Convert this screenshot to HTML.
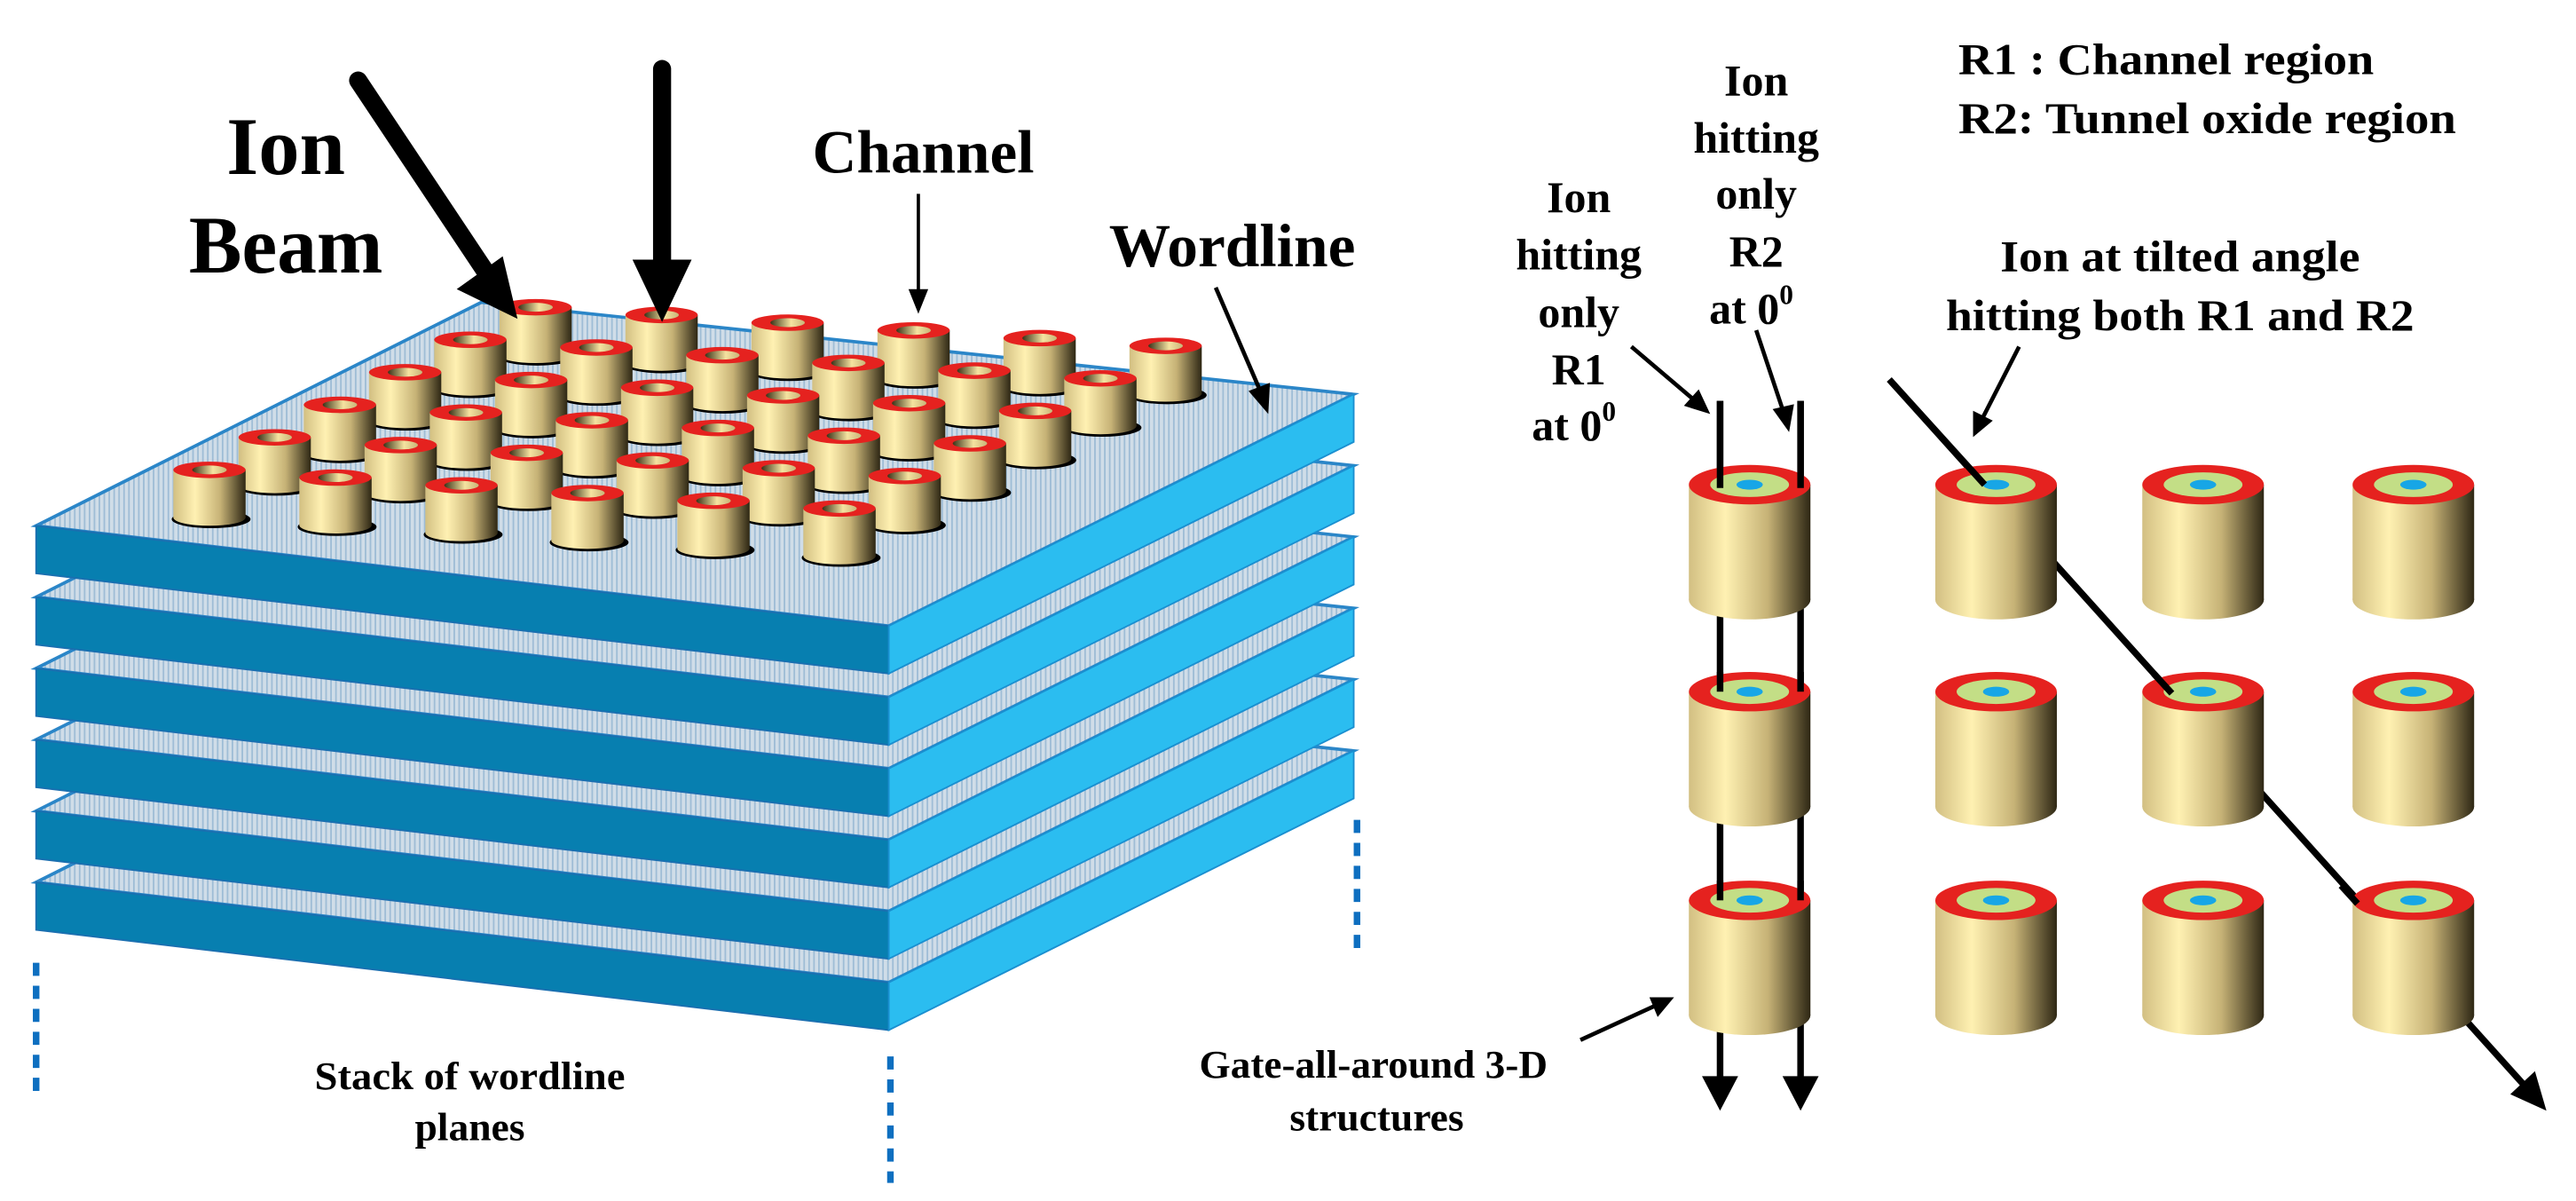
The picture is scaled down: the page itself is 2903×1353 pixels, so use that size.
<!DOCTYPE html>
<html><head><meta charset="utf-8">
<style>html,body{margin:0;padding:0;background:#fff;overflow:hidden}svg{display:block}
text{font-family:"Liberation Serif",serif;font-weight:bold;fill:#000}</style></head>
<body>
<svg id="s" width="2903" height="1353" viewBox="0 0 1568 731" preserveAspectRatio="none" xmlns="http://www.w3.org/2000/svg">
<defs>
<linearGradient id="cyl" x1="0" x2="1" y1="0" y2="0">
<stop offset="0" stop-color="#d2bf82"/><stop offset="0.3" stop-color="#fff1b2"/><stop offset="0.65" stop-color="#c6b276"/><stop offset="1" stop-color="#2e2714"/></linearGradient>
<linearGradient id="hole" x1="0" x2="1"><stop offset="0" stop-color="#3a3218"/><stop offset="0.6" stop-color="#f5e3a0"/><stop offset="1" stop-color="#c8b478"/></linearGradient>
<pattern id="tex" width="3" height="3" patternUnits="userSpaceOnUse"><rect width="3" height="3" fill="#d0dde8"/><rect width="1" height="3" fill="#9fbdd6"/></pattern>
</defs>
<g id="plates"></g>
<g id="pillars"></g>
<g id="right"></g>
<!-- left arrows -->
<line x1="218" y1="49" x2="296" y2="166" stroke="#000" stroke-width="11" stroke-linecap="round"/>
<polygon points="315,194 278,176 306,156" fill="#000"/>
<line x1="403" y1="42" x2="403" y2="165" stroke="#000" stroke-width="11" stroke-linecap="round"/>
<polygon points="403,196 385,158 421,158" fill="#000"/>
<line x1="559" y1="118" x2="559" y2="180" stroke="#000" stroke-width="2"/>
<polygon points="559,191 553,176 565,176" fill="#000"/>
<line x1="740" y1="175" x2="768" y2="240" stroke="#000" stroke-width="2.5"/>
<polygon points="772,252 760,238 773,233" fill="#000"/>
<text x="174" y="106" font-size="50" text-anchor="middle">Ion</text>
<text x="174" y="166" font-size="50" text-anchor="middle" textLength="118" lengthAdjust="spacingAndGlyphs">Beam</text>
<text x="562" y="105" font-size="37" text-anchor="middle" textLength="135" lengthAdjust="spacingAndGlyphs">Channel</text>
<text x="750" y="162" font-size="37" text-anchor="middle" textLength="150" lengthAdjust="spacingAndGlyphs">Wordline</text>
<text x="286" y="663" font-size="24" text-anchor="middle" textLength="189" lengthAdjust="spacingAndGlyphs">Stack of wordline</text>
<text x="286" y="694" font-size="24" text-anchor="middle" textLength="67" lengthAdjust="spacingAndGlyphs">planes</text>
<text x="836" y="656" font-size="24" text-anchor="middle" textLength="212" lengthAdjust="spacingAndGlyphs">Gate-all-around 3-D</text>
<text x="838" y="688" font-size="24" text-anchor="middle" textLength="106" lengthAdjust="spacingAndGlyphs">structures</text>
<g stroke="#0e6fc0" stroke-width="4" stroke-dasharray="8,6">
<line x1="22" y1="586" x2="22" y2="664"/><line x1="542" y1="643" x2="542" y2="720"/><line x1="826" y1="499" x2="826" y2="579"/>
</g>
<!-- right texts -->
<g font-size="27">
<text x="961" y="129" text-anchor="middle">Ion</text>
<text x="961" y="164" text-anchor="middle">hitting</text>
<text x="961" y="199" text-anchor="middle">only</text>
<text x="961" y="234" text-anchor="middle">R1</text>
<text x="958" y="268" text-anchor="middle">at 0<tspan font-size="17" dy="-12">0</tspan></text>
<text x="1069" y="58" text-anchor="middle">Ion</text>
<text x="1069" y="93" text-anchor="middle">hitting</text>
<text x="1069" y="127" text-anchor="middle">only</text>
<text x="1069" y="162" text-anchor="middle">R2</text>
<text x="1066" y="197" text-anchor="middle">at 0<tspan font-size="17" dy="-12">0</tspan></text>
<text x="1192" y="45" textLength="253" lengthAdjust="spacingAndGlyphs">R1 : Channel region</text>
<text x="1192" y="81" textLength="303" lengthAdjust="spacingAndGlyphs">R2: Tunnel oxide region</text>
<text x="1327" y="165" text-anchor="middle" textLength="219" lengthAdjust="spacingAndGlyphs">Ion at tilted angle</text>
<text x="1327" y="201" text-anchor="middle" textLength="285" lengthAdjust="spacingAndGlyphs">hitting both R1 and R2</text>
</g>
<g stroke="#000" stroke-width="2.5">
<line x1="993" y1="211" x2="1033" y2="245"/><line x1="1069" y1="201" x2="1086" y2="252"/>
<line x1="1229" y1="211" x2="1206" y2="256"/><line x1="962" y1="633" x2="1010" y2="611"/>
</g>
<g fill="#000">
<polygon points="1041,252 1025,247 1034,237"/><polygon points="1089,263 1079,249 1092,246"/>
<polygon points="1201,266 1201,250 1213,256"/><polygon points="1019,607 1009,619 1004,607"/>
</g>
</svg>
<script>
var NS="http://www.w3.org/2000/svg";
function el(p,t,a){var e=document.createElementNS(NS,t);for(var k in a)e.setAttribute(k,a[k]);p.appendChild(e);return e;}
var P=document.getElementById('plates');
for(var k=5;k>=0;k--){var d=k*43.4;
 var L=[22,320+d],F=[541,381+d],R=[824,240+d],B=[293,184+d],t=29;
 function pt(a,o){return a[0]+','+(a[1]+(o||0));}
 el(P,'polygon',{points:[pt(L),pt(B),pt(R),pt(F)].join(' '),fill:'url(#tex)',stroke:'#2b86c8','stroke-width':2});
 el(P,'polygon',{points:[pt(L),pt(F),pt(F,t),pt(L,t)].join(' '),fill:'#077fb0',stroke:'#1a6fb0','stroke-width':1});
 el(P,'polygon',{points:[pt(F),pt(R),pt(R,t),pt(F,t)].join(' '),fill:'#2bbdf0',stroke:'#1a8fd0','stroke-width':1});
}
var G=document.getElementById('pillars');
for(var r=0;r<6;r++)for(var c=0;c<6;c++){
 var x=326+c*76.7-r*39.7,y=187+c*4.7+r*19.8,rx=22,ry=5,h=29;
 el(G,'ellipse',{cx:x+1,cy:y+h+1,rx:24,ry:5.5,fill:'#000'});
 el(G,'rect',{x:x-rx,y:y,width:2*rx,height:h,fill:'url(#cyl)'});
 el(G,'ellipse',{cx:x,cy:y+h,rx:rx,ry:ry,fill:'url(#cyl)'});
 el(G,'ellipse',{cx:x,cy:y,rx:rx,ry:ry,fill:'#e5221f'});
 el(G,'ellipse',{cx:x,cy:y,rx:10.5,ry:2.7,fill:'url(#hole)'});
}
var Rg=document.getElementById('right');
function ln(x1,y1,x2,y2){el(Rg,'line',{x1:x1,y1:y1,x2:x2,y2:y2,stroke:'#000','stroke-width':4});}
ln(1047,244,1047,660);ln(1096,244,1096,660);ln(1150,231,1536,660);
var cols=[1065,1215,1341,1469],rows=[295,421,548];
rows.forEach(function(y){cols.forEach(function(x){
 var rx=37,ry=12,h=70;
 el(Rg,'rect',{x:x-rx,y:y,width:2*rx,height:h,fill:'url(#cyl)'});
 el(Rg,'ellipse',{cx:x,cy:y+h,rx:rx,ry:ry,fill:'url(#cyl)'});
 el(Rg,'ellipse',{cx:x,cy:y,rx:rx,ry:ry,fill:'#e5221f'});
 el(Rg,'ellipse',{cx:x,cy:y,rx:24,ry:7.5,fill:'#c3de86'});
 el(Rg,'ellipse',{cx:x,cy:y,rx:8,ry:3,fill:'#17a6e6'});
});});
ln(1047,244,1047,297);ln(1096,244,1096,297);
[421,548].forEach(function(y){ln(1047,y-12,1047,y);ln(1096,y-12,1096,y);});
ln(1150,231,1208,295);ln(1311,410,1322,422);ln(1425,539,1435,550);
el(Rg,'polygon',{points:'1036,655 1058,655 1047,676',fill:'#000'});
el(Rg,'polygon',{points:'1085,655 1107,655 1096,676',fill:'#000'});
el(Rg,'polygon',{points:'1550,676 1528,666 1543,652',fill:'#000'});
</script>
</body></html>
